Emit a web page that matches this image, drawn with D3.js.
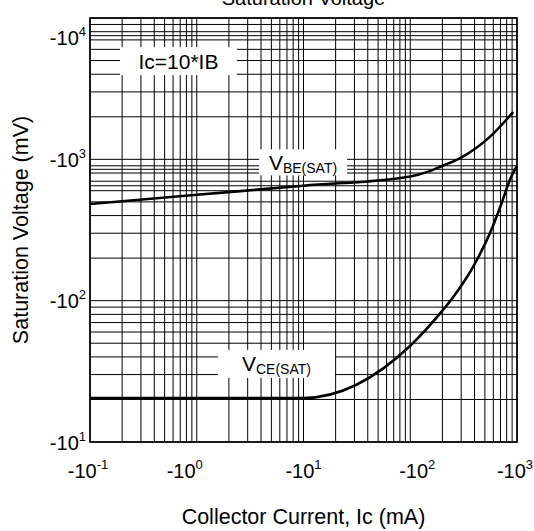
<!DOCTYPE html>
<html>
<head>
<meta charset="utf-8">
<script src="https://cdn.jsdelivr.net/npm/d3@7"></script>
<style>
  html, body { margin: 0; padding: 0; background: #fff; }
  svg { display: block; font-family: Arial, "Liberation Sans", sans-serif; }
</style>
</head>
<body>
<svg id="chart" width="534" height="531"></svg>
<script>
// collector current (mA) vs saturation voltage (mV)
const icBE = [0.1, 1, 10, 100, 150, 200, 300, 550, 920];
const vBE  = [483, 561, 651, 757, 822, 900, 1030, 1430, 2160];

const icCE = [0.1, 1, 10, 100, 200, 250, 390, 560, 720, 860, 1000];
const vCE  = [20.5, 20.5, 20.5, 48, 85, 105, 175, 302, 493, 721, 900];

const xTickVals = [0.1, 1, 10, 100, 1000];
const xTickExp  = ["-1", "0", "1", "2", "3"];
const yTickVals = [10, 100, 1000, 10000];
const yTickExp  = ["1", "2", "3", "4"];

// odd extra rulings that the original grid has
const yExtraGrid = [7500, 850, 650];

// the datasheet's x labels don't sit exactly on their ticks
const xLabelNudge = [-2, -12, 0, 7, -2];

const W = 534, H = 531;
const margin = {top: 18, right: 17, bottom: 89, left: 90};
const svg = d3.select("#chart");

const x = d3.scaleLog().domain([0.1, 1000]).range([margin.left, W - margin.right]);
const y = d3.scaleLog().domain([10, 10000]).range([H - margin.bottom, margin.top]);

// grid
const grid = svg.append("g").attr("class", "grid")
    .attr("stroke", "#000").attr("stroke-width", 1);

grid.selectAll("line.vx")
    .data(x.ticks())
    .join("line")
    .attr("class", "vx")
    .attr("x1", d => x(d)).attr("x2", d => x(d))
    .attr("y1", y(10)).attr("y2", y(10000));

grid.selectAll("line.hy")
    .data(y.ticks().concat(yExtraGrid))
    .join("line")
    .attr("class", "hy")
    .attr("x1", x(0.1)).attr("x2", x(1000))
    .attr("y1", d => y(d)).attr("y2", d => y(d));

// curves
const line = d3.line()
    .x(d => x(d[0]))
    .y(d => y(d[1]))
    .curve(d3.curveMonotoneX);

svg.append("path")
    .datum(d3.zip(icBE, vBE))
    .attr("d", line)
    .attr("fill", "none")
    .attr("stroke", "#000")
    .attr("stroke-width", 2.6);

svg.append("path")
    .datum(d3.zip(icCE, vCE))
    .attr("d", line)
    .attr("fill", "none")
    .attr("stroke", "#000")
    .attr("stroke-width", 2.6);

// frame
svg.append("rect")
    .attr("x", x(0.1)).attr("y", y(10000))
    .attr("width", x(1000) - x(0.1))
    .attr("height", y(10) - y(10000))
    .attr("fill", "none")
    .attr("stroke", "#000")
    .attr("stroke-width", 1.6);

// labels inside the plot, on white patches
const notes = [
    {main: "Ic=10*IB", sub: "", at: [0.674, 4955], w: 117, h: 28, size: 21},
    {main: "V", sub: "BE(SAT)", at: [9.9, 952], w: 88, h: 26, size: 21},
    {main: "V", sub: "CE(SAT)", at: [5.58, 35.7], w: 117, h: 28, size: 21}
];

const noteG = svg.append("g").selectAll("g")
    .data(notes)
    .join("g")
    .attr("transform", d => `translate(${x(d.at[0])},${y(d.at[1])})`);

noteG.append("rect")
    .attr("x", d => -d.w / 2).attr("y", d => -d.h / 2)
    .attr("width", d => d.w).attr("height", d => d.h)
    .attr("fill", "#fff");

const noteT = noteG.append("text")
    .attr("text-anchor", "middle")
    .attr("y", 7.5)
    .attr("font-size", d => d.size + "px")
    .attr("fill", "#000");
noteT.append("tspan").text(d => d.main);
noteT.filter(d => d.sub).append("tspan")
    .attr("font-size", "14px")
    .attr("dy", 3)
    .text(d => d.sub);

// x tick labels
const xLab = svg.append("g").selectAll("text")
    .data(xTickVals)
    .join("text")
    .attr("x", (d, i) => x(d) + xLabelNudge[i])
    .attr("y", 478)
    .attr("text-anchor", "middle")
    .attr("font-size", "20px");
xLab.append("tspan").text("-10");
xLab.append("tspan")
    .attr("font-size", "13px")
    .attr("dy", -9)
    .text((d, i) => xTickExp[i]);

// y tick labels
const yLab = svg.append("g").selectAll("text")
    .data(yTickVals)
    .join("text")
    .attr("x", 86)
    .attr("y", d => Math.max(y(d), 37) + 7.5)
    .attr("text-anchor", "end")
    .attr("font-size", "20px");
yLab.append("tspan").text("-10");
yLab.append("tspan")
    .attr("font-size", "13px")
    .attr("dy", -9)
    .text((d, i) => yTickExp[i]);

// titles
svg.append("text")
    .attr("x", (x(0.1) + x(1000)) / 2)
    .attr("y", 5)
    .attr("text-anchor", "middle")
    .attr("font-size", "20px")
    .text("Saturation Voltage");

svg.append("text")
    .attr("x", (x(0.1) + x(1000)) / 2)
    .attr("y", 524)
    .attr("text-anchor", "middle")
    .attr("font-size", "21.5px")
    .text("Collector Current, Ic (mA)");

svg.append("text")
    .attr("transform", `translate(28,${(y(10) + y(10000)) / 2}) rotate(-90)`)
    .attr("text-anchor", "middle")
    .attr("font-size", "21.5px")
    .text("Saturation Voltage (mV)");
</script>
</body>
</html>
